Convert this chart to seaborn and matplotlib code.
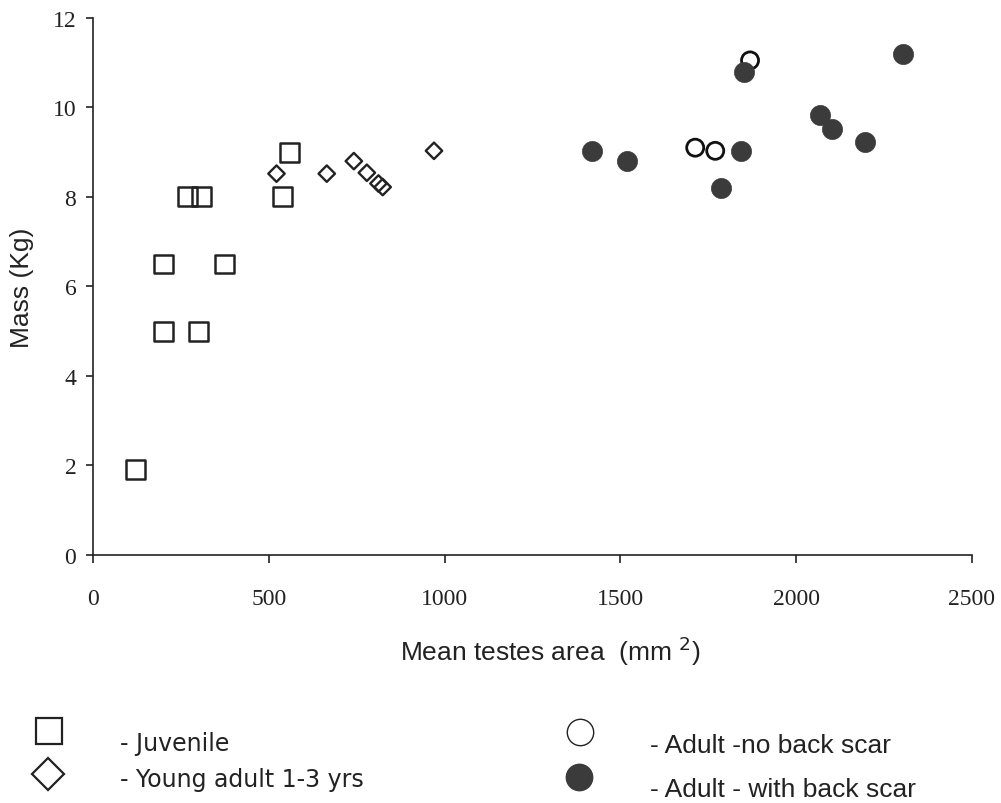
import numpy as np
import pandas as pd
import matplotlib
matplotlib.use('Agg')
import matplotlib.pyplot as plt
from matplotlib.lines import Line2D
import seaborn as sns

# data
juv_x = [120, 200, 375, 200, 300, 268, 308, 540, 560]
juv_y = [1.9, 6.5, 6.5, 5.0, 5.0, 8.0, 8.0, 8.0, 9.0]
young_x = [522, 665, 742, 779, 812, 824, 970]
young_y = [8.52, 8.52, 8.8, 8.54, 8.3, 8.22, 9.03]
adult_noscar_x = [1713, 1770, 1869]
adult_noscar_y = [9.1, 9.03, 11.05]
adult_scar_x = [1420, 1520, 1852, 1843, 1787, 2068, 2102, 2196, 2304]
adult_scar_y = [9.03, 8.81, 10.8, 9.03, 8.21, 9.83, 9.52, 9.22, 11.2]

legend_labels = ['- Juvenile', '- Young adult 1-3 yrs',
                 '- Adult -no back scar', '- Adult - with back scar']

sns.set_style('ticks')
plt.rcParams['font.family'] = ['Liberation Sans', 'DejaVu Sans']

fig = plt.figure(figsize=(10.01, 8.04), dpi=100)
ax = fig.add_axes([0.0929, 0.3085, 0.878, 0.668])

dark = '#3b3b3b'
ink = '#222222'
sns.scatterplot(x=juv_x, y=juv_y, marker='s', s=185, facecolor='none',
                edgecolor=ink, linewidth=1.8, ax=ax)
sns.scatterplot(x=young_x, y=young_y, marker='D', s=70, facecolor='none',
                edgecolor=ink, linewidth=1.7, ax=ax)
sns.scatterplot(x=adult_noscar_x, y=adult_noscar_y, marker='o', s=150,
                facecolor='none', edgecolor='#111111', linewidth=2.0, ax=ax)
sns.scatterplot(x=adult_scar_x, y=adult_scar_y, marker='o', s=210,
                color=dark, edgecolor=dark, linewidth=0.5, ax=ax)

ax.set_xlim(0, 2500)
ax.set_ylim(0, 12)
ax.set_xticks([0, 500, 1000, 1500, 2000, 2500])
ax.set_yticks([0, 2, 4, 6, 8, 10, 12])
sns.despine(ax=ax)
for sp in ['left', 'bottom']:
    ax.spines[sp].set_linewidth(1.2)
    ax.spines[sp].set_color(ink)
ax.tick_params(axis='x', length=6, width=1.2, color=ink, pad=18)
ax.tick_params(axis='y', length=5, width=1.2, color=ink, pad=7)
for lab in ax.get_xticklabels() + ax.get_yticklabels():
    lab.set_fontfamily('Liberation Serif')
    lab.set_fontsize(17)
    lab.set_color(ink)

ax.set_ylabel('Mass (Kg)', fontsize=19, color=ink)
ax.yaxis.set_label_coords(-0.081, 0.5)
ax.set_xlabel('Mean testes area  (mm $^{2}$)', fontsize=19, color=ink)
ax.xaxis.set_label_coords(0.52, -0.178)
ax.xaxis.label.set_va('center')
ax.yaxis.label.set_va('center')

# legend drawn by hand under the plot
W, H = 1001, 804
def fx(px):
    return px / W
def fy(py):
    return 1 - py / H

mk = [('s', 49, 732, 'none', 19, 1.6), ('D', 48, 775, 'none', 16, 1.6),
      ('o', 580, 733, 'none', 19, 1.0), ('o', 579, 778, dark, 19, 1.0)]
for m, px, py, fc, ms, mew in mk:
    fig.add_artist(Line2D([fx(px)], [fy(py)], marker=m, markersize=ms,
                          markerfacecolor=fc, markeredgecolor=ink if fc == 'none' else dark,
                          markeredgewidth=mew, linestyle='none',
                          transform=fig.transFigure))

fig.text(fx(120), fy(751), legend_labels[0], fontsize=17, va='baseline',
         color=ink, family='DejaVu Sans')
fig.text(fx(120), fy(787), legend_labels[1], fontsize=17, va='baseline',
         color=ink, family='DejaVu Sans')
fig.text(fx(650), fy(753), legend_labels[2], fontsize=19, va='baseline', color=ink)
fig.text(fx(650), fy(797), legend_labels[3], fontsize=19, va='baseline', color=ink)

fig.savefig('out.png', dpi=100)
